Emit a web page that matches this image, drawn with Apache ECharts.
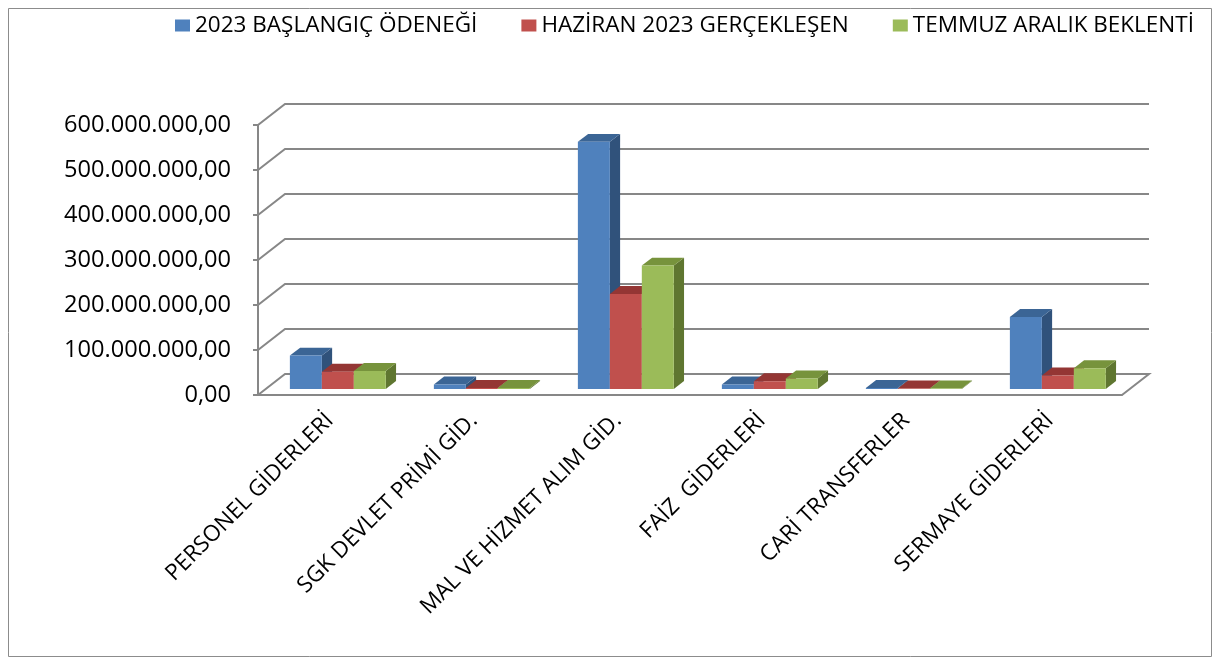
<!DOCTYPE html>
<html>
<head>
<meta charset="utf-8">
<script src="https://cdn.jsdelivr.net/npm/echarts@6/dist/echarts.min.js"></script>
<style>
  html, body { margin: 0; padding: 0; background: #fff; }
  #chart { width: 1219px; height: 662px; }
</style>
</head>
<body>
<div id="chart"></div>
<script>
// values (TL)
const categories = ['PERSONEL GİDERLERİ', 'SGK DEVLET PRİMİ GİD.', 'MAL VE HİZMET ALIM GİD.', 'FAİZ  GİDERLERİ', 'CARİ TRANSFERLER', 'SERMAYE GİDERLERİ']
const seriesNames = ['2023 BAŞLANGIÇ ÖDENEĞİ', 'HAZİRAN 2023 GERÇEKLEŞEN', 'TEMMUZ ARALIK BEKLENTİ']
const baslangic = [74000000, 10000000, 549000000, 10000000, 2000000, 160000000]
const haziran = [38000000, 2000000, 211000000, 17000000, 1000000, 30000000]
const temmuz = [40000000, 2000000, 274000000, 23000000, 1000000, 46000000]
const gridValues = [0, 100000000, 200000000, 300000000, 400000000, 500000000, 600000000]

// colours: front / top / side
const palette = [
  { front: '#4F81BD', top: '#3B6595', side: '#30527B' },
  { front: '#C0504D', top: '#943634', side: '#7F2E2C' },
  { front: '#9BBB59', top: '#77933C', side: '#5F7630' }
]
const DX = 27   // depth of the floor, horizontal
const DY = -21  // depth of the floor, vertical
const FONT = 'Open Sans'

function fmt(v) {
  const s = String(Math.round(v)).replace(/\B(?=(\d{3})+(?!\d))/g, '.')
  return s + ',00'
}

function wallItem(params, api) {
  const cs = params.coordSys
  const y = api.coord([0, api.value(0)])[1]
  const x0 = cs.x
  const x1 = cs.x + cs.width
  const pts = [[x0, y], [x0 + DX, y + DY], [x1 + DX, y + DY]]
  if (api.value(0) === 0) pts.push([x1, y])
  return {
    type: 'polyline',
    shape: { points: pts },
    style: { stroke: '#878787', lineWidth: 2, fill: null }
  }
}

function barRenderer(slot) {
  return function(params, api) {
    const c = api.coord([api.value(0), 0])
    const t = api.coord([api.value(0), api.value(1)])
    const catW = api.size([1, 0])[0]
    const bw = catW * 0.222
    const f0 = 0.29
    const fd = 0.38
    const ox = DX * f0
    const oy = DY * f0
    const ddx = DX * fd
    const ddy = DY * fd
    const x = c[0] - 1.5 * bw + slot * bw + ox
    const yb = c[1] + oy
    const yt = t[1] + oy
    const col = palette[slot]
    return {
      type: 'group',
      children: [
        {
          type: 'polygon',
          shape: { points: [[x + bw, yt], [x + bw + ddx, yt + ddy], [x + bw + ddx, yb + ddy], [x + bw, yb]] },
          style: { fill: col.side }
        },
        {
          type: 'polygon',
          shape: { points: [[x, yt], [x + bw, yt], [x + bw + ddx, yt + ddy], [x + ddx, yt + ddy]] },
          style: { fill: col.top }
        },
        {
          type: 'rect',
          shape: { x: x, y: yt, width: bw, height: yb - yt },
          style: { fill: col.front }
        }
      ]
    }
  }
}

const seriesValues = [baslangic, haziran, temmuz]

const chart = echarts.init(document.getElementById('chart'))
chart.setOption({
  animation: false,
  backgroundColor: '#fff',
  graphic: [{
    type: 'rect',
    shape: { x: 8.5, y: 8.5, width: 1203, height: 648 },
    style: { fill: null, stroke: '#8c8c8c', lineWidth: 1 }
  }],
  legend: {
    data: seriesNames,
    top: 9,
    left: 170,
    icon: 'rect',
    itemWidth: 15,
    itemHeight: 12,
    itemGap: 44,
    textStyle: { fontFamily: FONT, fontSize: 22.5, color: '#000' }
  },
  grid: { left: 258, top: 125, width: 864, height: 270, containLabel: false },
  xAxis: {
    type: 'category',
    data: categories,
    axisLine: { lineStyle: { color: '#878787', width: 2 } },
    axisTick: { length: 9, lineStyle: { color: '#878787', width: 2 } },
    axisLabel: {
      interval: 0,
      rotate: 45,
      margin: 22,
      fontFamily: FONT,
      fontSize: 22.5,
      color: '#000'
    },
    splitLine: { show: false }
  },
  yAxis: {
    type: 'value',
    min: 0,
    max: 600000000,
    interval: 100000000,
    axisLine: { show: true, lineStyle: { color: '#878787', width: 2 } },
    axisTick: { show: true, length: 5, lineStyle: { color: '#878787', width: 2 } },
    axisLabel: {
      formatter: fmt,
      margin: 27,
      padding: [7, 0, 0, 0],
      fontFamily: FONT,
      fontSize: 23.6,
      color: '#000'
    },
    splitLine: { show: false }
  },
  series: [
    {
      type: 'custom',
      name: 'walls',
      renderItem: wallItem,
      data: gridValues.map(v => [v]),
      encode: { y: 0 },
      z: 1,
      silent: true
    }
  ].concat(seriesNames.map((name, s) => ({
    type: 'custom',
    name: name,
    itemStyle: { color: palette[s].front },
    renderItem: barRenderer(s),
    data: seriesValues[s].map((v, i) => [i, v]),
    encode: { x: 0, y: 1 },
    z: 3
  })))
})
</script>
</body>
</html>
